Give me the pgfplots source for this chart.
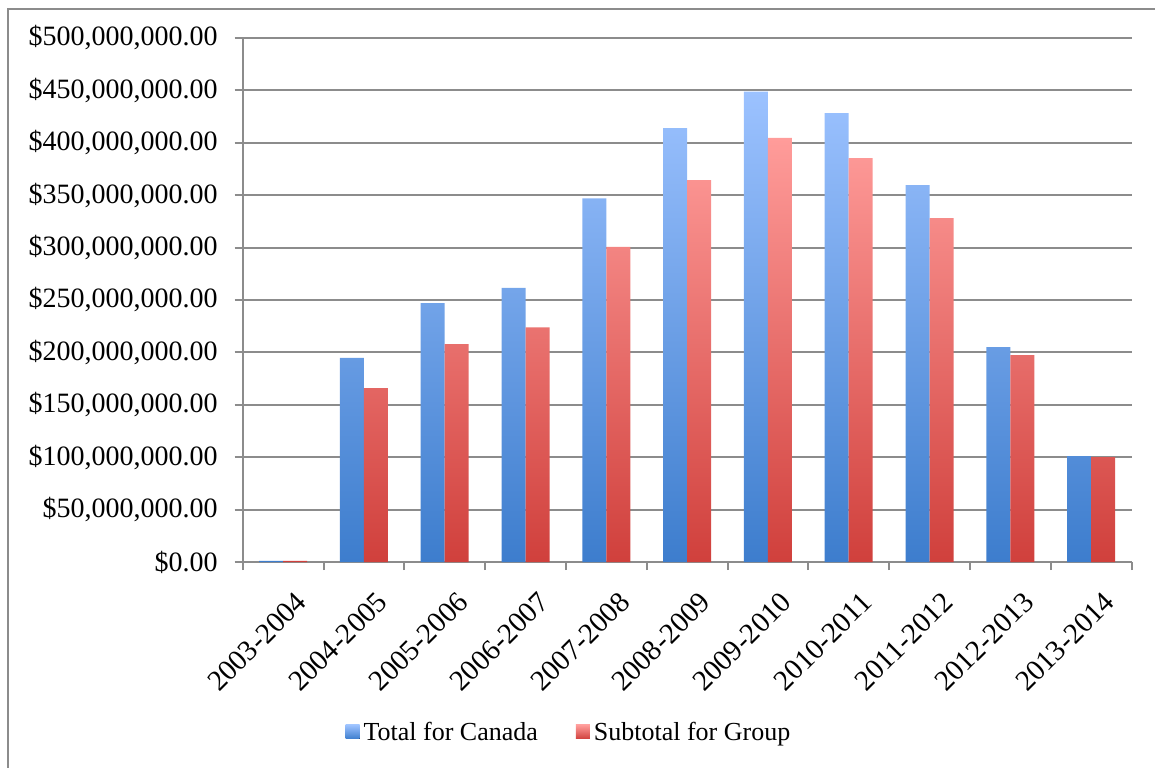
\documentclass[border=0pt]{standalone}
\usepackage{fontspec}
\setmainfont{Liberation Serif}
\usepackage{pgfplots}
\pgfplotsset{compat=1.18}
\usepackage{pgfplotstable}

\definecolor{blueTop}{HTML}{9CC2FF}
\definecolor{blueBot}{HTML}{3D7DCD}
\definecolor{redTop}{HTML}{FF9C9A}
\definecolor{redBot}{HTML}{D0403C}
\definecolor{gridgray}{HTML}{8C8C8C}

\pgfplotstableread{
x canada group
0 1200000 1000000
1 194700000 166000000
2 247000000 208000000
3 261500000 224000000
4 347000000 300600000
5 414000000 364500000
6 448800000 404600000
7 428400000 385500000
8 359700000 328200000
9 205000000 197500000
10 101000000 100200000
}\datatable

\begin{document}
\begin{tikzpicture}[x=1pt,y=1pt]
\useasboundingbox (0,0) rectangle (577.5,383.5);
\draw[gridgray, line width=1pt] (4.15,-5) -- (4.15,378.85) -- (585,378.85);
\begin{axis}[
  at={(121.35pt,102.5pt)}, anchor=south west,
  scale only axis, width=444.4pt, height=262pt,
  xmin=-0.5, xmax=10.5, ymin=0, ymax=500000000,
  ybar=0pt, bar width=12pt,
  axis x line*=bottom, axis y line*=left,
  axis line style={gridgray, line width=1pt, -},
  ytick={0,50000000,100000000,150000000,200000000,250000000,300000000,350000000,400000000,450000000,500000000},
  scaled y ticks=false,
  yticklabels={{\$0.00},{\$50,000,000.00},{\$100,000,000.00},{\$150,000,000.00},{\$200,000,000.00},{\$250,000,000.00},{\$300,000,000.00},{\$350,000,000.00},{\$400,000,000.00},{\$450,000,000.00},{\$500,000,000.00}},
  ymajorgrids, grid style={gridgray, line width=1pt},
  xtick={0,...,10},
  xticklabels={2003-2004,2004-2005,2005-2006,2006-2007,2007-2008,2008-2009,2009-2010,2010-2011,2011-2012,2012-2013,2013-2014},
  minor xtick={-0.5,0.5,...,10.5},
  tick align=outside, major tick length=4pt, minor tick length=4pt,
  major x tick style={draw=none},
  minor x tick style={gridgray, line width=1pt},
  ytick style={gridgray, line width=1pt},
  xticklabel style={rotate=45, anchor=north east, font=\fontsize{14.5}{16}\selectfont, inner sep=1pt, xshift=-2pt, yshift=-10pt},
  yticklabel style={font=\fontsize{14}{16}\selectfont, xshift=-5pt},
  legend columns=2,
  legend style={at={(0.3682,-0.3263)}, anchor=center, draw=none, fill=none,
    font=\fontsize{13}{15}\selectfont,
    /tikz/every even column/.append style={column sep=17pt},
    inner sep=0pt},
]
\addplot[draw=none, top color=blueTop, bottom color=blueBot,
  legend image code/.code={\fill[top color=blueTop, bottom color=blueBot] (0pt,-3pt) rectangle (7pt,4pt);}]
  table[x=x, y=canada] {\datatable};
\addlegendentry{Total for Canada}
\addplot[draw=none, top color=redTop, bottom color=redBot,
  legend image code/.code={\fill[top color=redTop, bottom color=redBot] (0pt,-3pt) rectangle (7pt,4pt);}]
  table[x=x, y=group] {\datatable};
\addlegendentry{Subtotal for Group}
\end{axis}
\end{tikzpicture}
\end{document}
